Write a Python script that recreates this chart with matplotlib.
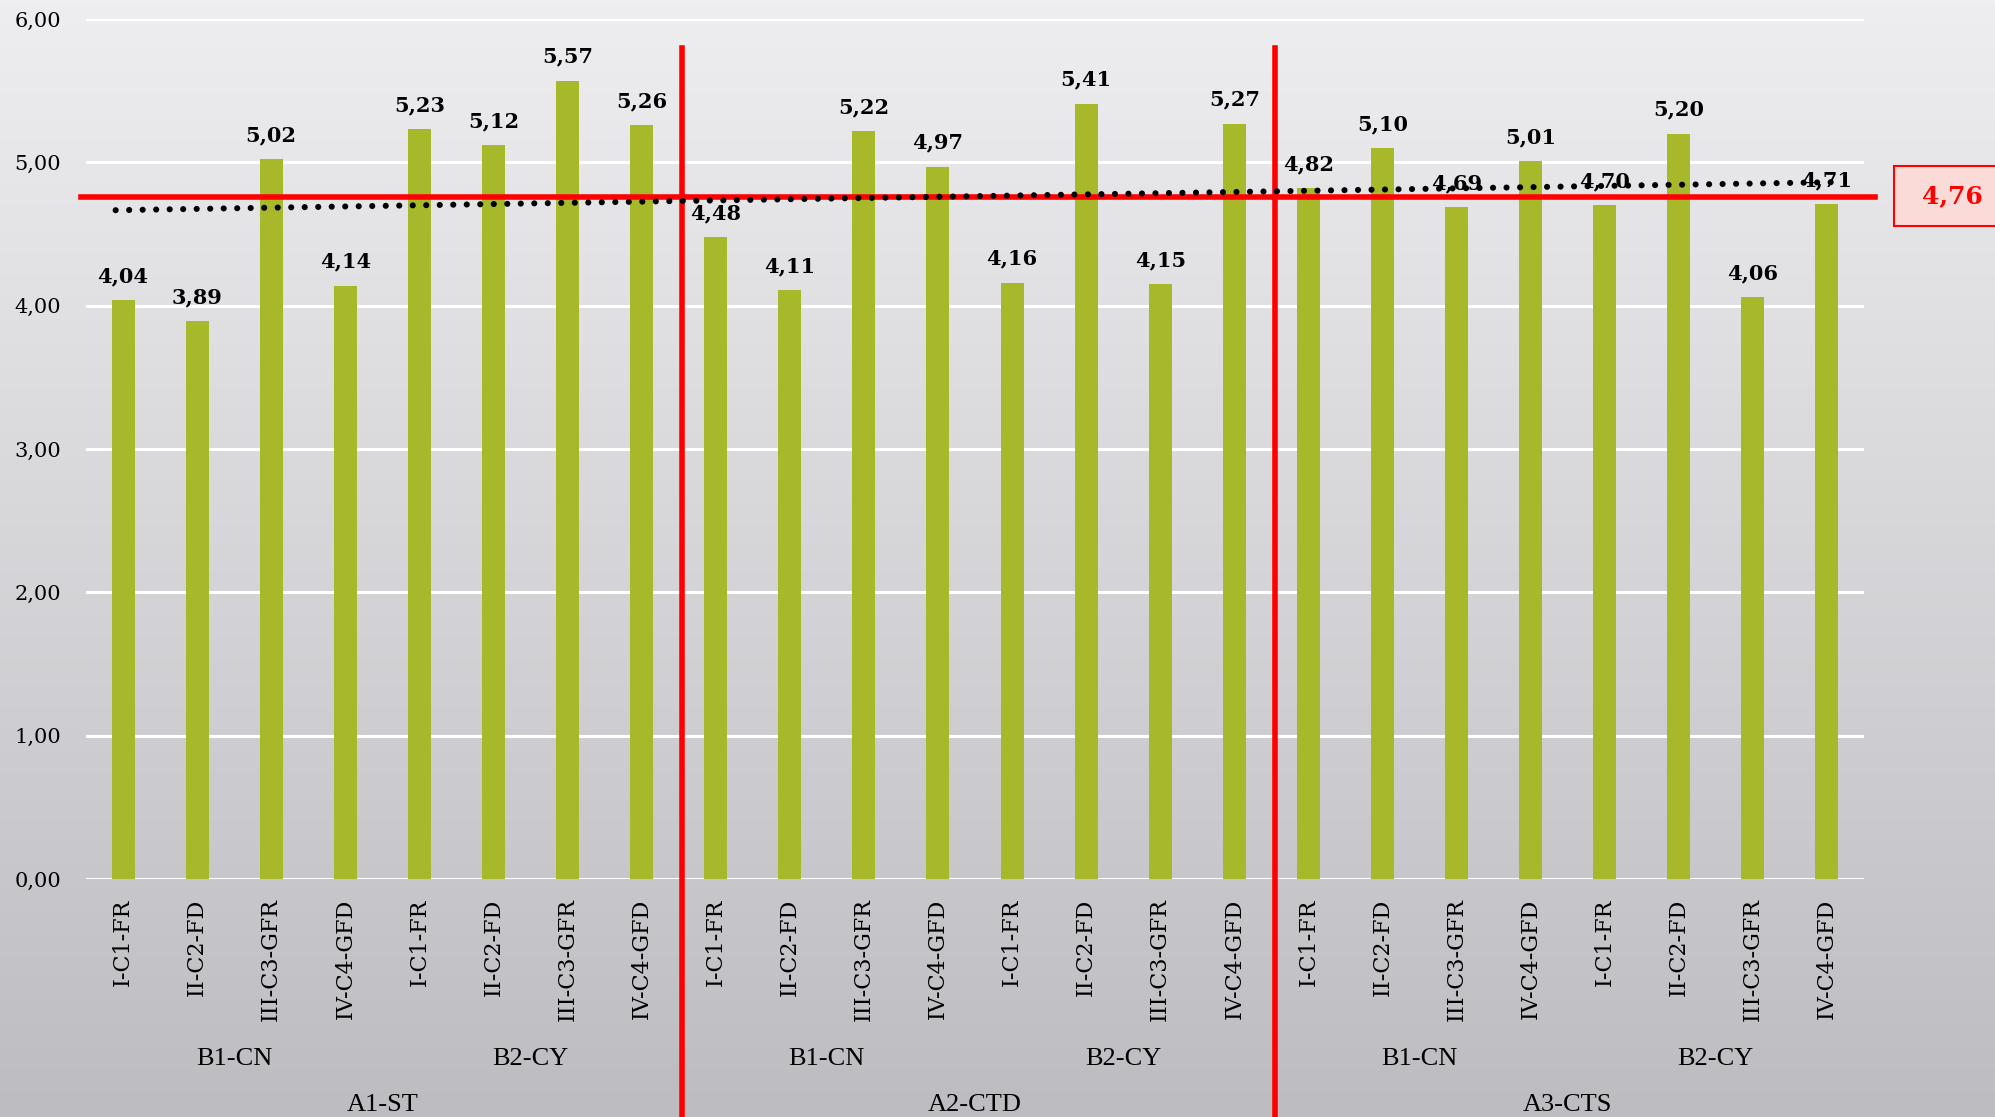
import numpy as np
import matplotlib
matplotlib.use("Agg")
import matplotlib.pyplot as plt
import matplotlib.transforms as mtransforms
from matplotlib.patches import Rectangle
from matplotlib.colors import LinearSegmentedColormap

# ---------------- data ----------------
items = ["I-C1-FR", "II-C2-FD", "III-C3-GFR", "IV-C4-GFD"]
level_b = ["B1-CN", "B2-CY"]
level_a = ["A1-ST", "A2-CTD", "A3-CTS"]

values_a1 = [4.04, 3.89, 5.02, 4.14, 5.23, 5.12, 5.57, 5.26]
values_a2 = [4.48, 4.11, 5.22, 4.97, 4.16, 5.41, 4.15, 5.27]
values_a3 = [4.82, 5.10, 4.69, 5.01, 4.70, 5.20, 4.06, 4.71]
mean_value = 4.76

values = values_a1 + values_a2 + values_a3
tick_labels = items * 6
n = len(values)
x = np.arange(n)

def fmt(v):
    return f"{v:.2f}".replace(".", ",")

# ---------------- figure ----------------
W, H = 1995, 1117
fig = plt.figure(figsize=(W / 100, H / 100), dpi=100)

# gradient background
bg = fig.add_axes([0, 0, 1, 1], zorder=-10)
cmap = LinearSegmentedColormap.from_list("bg", ["#bdbcc1", "#eeeef0"])
grad = np.linspace(0, 1, 256).reshape(-1, 1)
bg.imshow(grad, aspect="auto", cmap=cmap, origin="lower", extent=[0, 1, 0, 1])
bg.set_axis_off()

left, right = 86 / W, 1864 / W
top, bottom = 1 - 19 / H, 1 - 879 / H
ax = fig.add_axes([left, bottom, right - left, top - bottom])
ax.patch.set_alpha(0)

serif = "DejaVu Serif"
bar_color = "#a7b82a"

ax.set_ylim(0, 6)
ax.set_xlim(-0.5, n - 0.5)
ax.set_yticks(np.arange(0, 7, 1))
ax.set_yticklabels([fmt(v) for v in np.arange(0, 7, 1)], fontfamily=serif, fontsize=15)
ax.grid(axis="y", color="white", linewidth=2.2, zorder=0)
ax.set_axisbelow(True)
for s in ax.spines.values():
    s.set_visible(False)
ax.tick_params(axis="y", length=0, pad=18)
ax.tick_params(axis="x", length=0, pad=14)
ax.set_xticks(x)
ax.set_xticklabels(tick_labels, rotation=90, fontfamily=serif, fontsize=16, va="top")

bars = ax.bar(x, values, width=0.31, color=bar_color, zorder=2)
for xi, v in zip(x, values):
    ax.annotate(fmt(v), (xi, v), xytext=(0, 10), textcoords="offset points",
                ha="center", va="bottom", fontfamily=serif, fontweight="bold",
                fontsize=15, zorder=5)

# mean line
ax.plot([-0.003, 1.006], [mean_value, mean_value], color="#ff0000", linewidth=4,
        transform=ax.get_yaxis_transform(), clip_on=False, zorder=4)

# trend line
coef = np.polyfit(x, values, 1)
tx = np.array([-0.1, n - 0.95])
ax.plot(tx, np.polyval(coef, tx), color="black", linewidth=4.4,
        linestyle=(0, (0.01, 2.2)), dash_capstyle="round", zorder=6)

# group separators
sep_tr = mtransforms.blended_transform_factory(ax.transData, ax.transAxes)
for sx in [7.55, 15.55]:
    ax.plot([sx, sx], [5.8 / 6, -0.3], color="#ff0000", linewidth=4,
            transform=sep_tr, clip_on=False, zorder=4)

# group labels
lab_tr = mtransforms.blended_transform_factory(ax.transData, fig.transFigure)
for gi in range(6):
    cx = gi * 4 + 1.5
    fig.text(cx, 1 - 1059 / H, level_b[gi % 2], transform=lab_tr, ha="center",
             va="center", fontfamily="Liberation Serif", fontsize=19)
for ai in range(3):
    cx = ai * 8 + 3.5
    fig.text(cx, 1 - 1105 / H, level_a[ai], transform=lab_tr, ha="center",
             va="center", fontfamily="Liberation Serif", fontsize=19)

# mean label box
fig.patches.append(Rectangle((1894 / W, 1 - 226 / H), 0.06, 60 / H,
                             transform=fig.transFigure, facecolor="#fadbd8",
                             edgecolor="#ff0000", linewidth=1.5, zorder=3))
fig.text(1952 / W, 1 - 196 / H, fmt(mean_value), color="#ff0000", ha="center",
         va="center", fontfamily=serif, fontweight="bold", fontsize=18, zorder=4)

fig.savefig("out.png", dpi=100)
